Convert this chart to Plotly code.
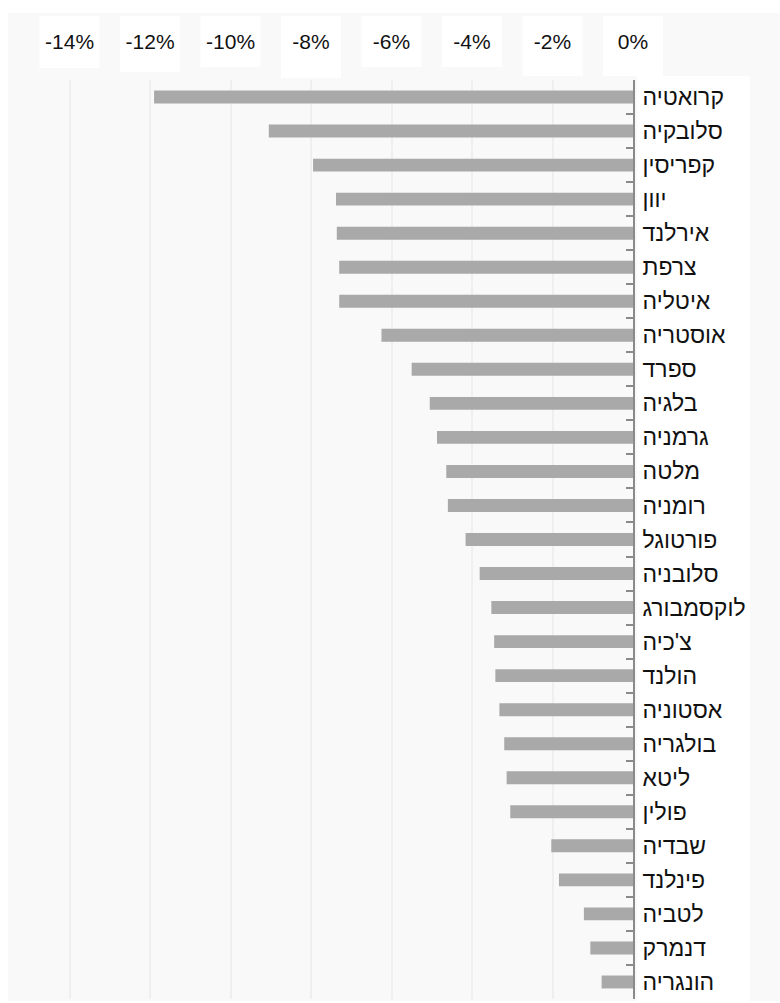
import plotly.graph_objects as go

countries = ["קרואטיה", "סלובקיה", "קפריסין", "יוון", "אירלנד", "צרפת", "איטליה",
             "אוסטריה", "ספרד", "בלגיה", "גרמניה", "מלטה", "רומניה", "פורטוגל",
             "סלובניה", "לוקסמבורג", "צ'כיה", "הולנד", "אסטוניה", "בולגריה",
             "ליטא", "פולין", "שבדיה", "פינלנד", "לטביה", "דנמרק", "הונגריה"]
values = [-11.9, -9.05, -7.95, -7.38, -7.36, -7.3, -7.3,
          -6.25, -5.5, -5.05, -4.87, -4.64, -4.6, -4.16,
          -3.81, -3.52, -3.45, -3.42, -3.32, -3.2,
          -3.14, -3.05, -2.03, -1.84, -1.22, -1.06, -0.78]
tick_vals = [-14, -12, -10, -8, -6, -4, -2, 0]
tick_text = ["-14%", "-12%", "-10%", "-8%", "-6%", "-4%", "-2%", "0%"]

W, H = 780, 1003
ML, MR, MT, MB = 8, 147, 80, 4
pw = W - ML - MR
ph = H - MT - MB


def px_x(p):
    return (p - ML) / pw


def px_y(p):
    return (H - MB - p) / ph


fig = go.Figure()
fig.add_trace(go.Bar(
    x=values, y=countries, orientation="h",
    marker=dict(color="#a9a9a9", line=dict(width=0)),
    width=0.38, hoverinfo="x+y",
))

shapes = [
    dict(type="rect", xref="paper", yref="paper", layer="below",
         x0=px_x(8), x1=px_x(780), y0=px_y(13), y1=px_y(1001),
         fillcolor="#f9f9f9", line=dict(width=0)),
    dict(type="rect", xref="paper", yref="paper", layer="below",
         x0=px_x(637), x1=px_x(750), y0=px_y(76), y1=px_y(1001),
         fillcolor="#ffffff", line=dict(width=0)),
]
box_bottoms = [68, 72, 67, 78, 67, 67, 76, 76]
for tv, bb in zip(tick_vals, box_bottoms):
    cx = 633 + tv * 40.25
    shapes.append(dict(type="rect", xref="paper", yref="paper", layer="below",
                       x0=px_x(cx - 30), x1=px_x(cx + 30),
                       y0=px_y(16), y1=px_y(bb),
                       fillcolor="#ffffff", line=dict(width=0)))

fig.update_layout(
    width=W, height=H,
    margin=dict(l=ML, r=MR, t=MT, b=MB, pad=0),
    paper_bgcolor="#ffffff",
    plot_bgcolor="rgba(0,0,0,0)",
    showlegend=False,
    shapes=shapes,
    xaxis=dict(
        side="top", range=[-15.53, 0], tickvals=tick_vals, ticktext=tick_text,
        showgrid=True, gridcolor="#efefef", gridwidth=2,
        zeroline=False, showline=False, ticks="",
        ticklabelstandoff=26,
        tickfont=dict(family="Liberation Sans, DejaVu Sans, sans-serif", size=21, color="#111111"),
        fixedrange=True,
    ),
    yaxis=dict(
        type="category", autorange="reversed", side="right",
        showline=True, linecolor="#8a8a8a", linewidth=2,
        ticks="inside", tickson="boundaries", ticklen=7, tickwidth=1.5, tickcolor="#8a8a8a",
        showgrid=False, zeroline=False,
        ticklabelstandoff=3,
        tickfont=dict(family="Liberation Sans, DejaVu Sans, sans-serif", size=23, color="#111111"),
        fixedrange=True,
    ),
)

fig.write_html("out.html", config={"displayModeBar": False},
               post_script="document.body.style.margin='0';document.body.style.overflow='hidden';")
